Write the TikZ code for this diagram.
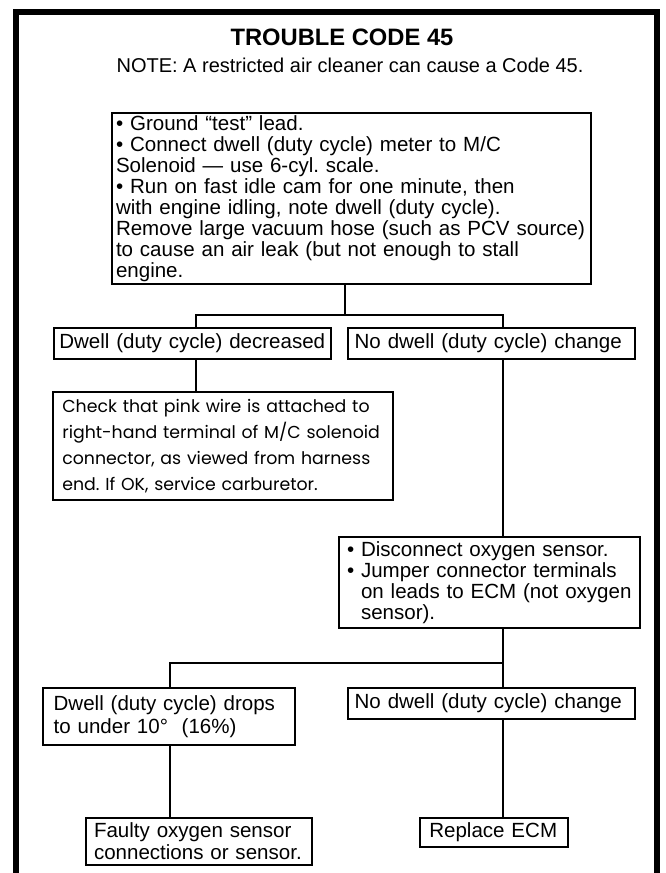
\documentclass[tikz,border=0pt]{standalone}
\usepackage{fontspec}
\setmainfont{Liberation Sans}
\newfontfamily\geofont{Poppins}
\newcommand\bul{\textbullet\ }
\frenchspacing
\begin{document}
\begin{tikzpicture}[x=0.75pt,y=-0.75pt,
  box/.style={draw, line width=1.4pt, outer sep=0pt, inner ysep=1pt,
    anchor=north west, align=left,
    font=\fontsize{15.4pt}{15.75pt}\selectfont},
  link/.style={line width=1.1pt},
  frame/.style={line width=3.8pt, line join=miter}]
\useasboundingbox (0,0) rectangle (665,873);

% outer frame, open at the bottom
\draw[frame] (16,873) -- (16,12) -- (657,12) -- (657,873);

% heading
\node[font=\bfseries\fontsize{17.8pt}{20pt}\selectfont] (title) at (342,37) {TROUBLE CODE 45};
\node[font=\fontsize{15pt}{18pt}\selectfont] (note) at (350,65)
  {NOTE: A restricted air cleaner can cause a Code 45.};

% boxes
\node[box, text width=353.25pt, inner xsep=3pt, minimum height=128.25pt] (start) at (112,113)
  {\bul Ground ``test'' lead.\\
   \bul Connect dwell (duty cycle) meter to M/C\\
   Solenoid --- use 6-cyl. scale.\\
   \bul Run on fast idle cam for one minute, then\\
   with engine idling, note dwell (duty cycle).\\
   Remove large vacuum hose (such as PCV source)\\
   to cause an air leak (but not enough to stall\\
   engine.};

\node[box, text width=199.75pt, inner xsep=4pt, minimum height=23.25pt] (dec) at (54,328)
  {Dwell (duty cycle) decreased};
\node[box, text width=205.25pt, inner xsep=5pt, minimum height=23.25pt] (nod1) at (348,328)
  {No dwell (duty cycle) change};

\node[box, text width=241pt, inner xsep=7pt, minimum height=81pt,
  font=\geofont\fontsize{13pt}{19.5pt}\selectfont] (check) at (53,392)
  {Check that pink wire is attached to\\
   right-hand terminal of M/C solenoid\\
   connector, as viewed from harness\\
   end. If OK, service carburetor.};

\node[box, text width=213.75pt, inner xsep=6pt, minimum height=68.25pt] (disc) at (339,537)
  {\bul Disconnect oxygen sensor.\\
   \bul Jumper connector terminals\\
   \phantom{\bul}on leads to ECM (not oxygen\\
   \phantom{\bul}sensor).};

\node[box, text width=173pt, inner xsep=8pt, minimum height=42.75pt,
  font=\fontsize{15.4pt}{17.25pt}\selectfont] (drop) at (43,688)
  {Dwell (duty cycle) drops\\ to under 10°\ \ (16\%)};
\node[box, text width=205.25pt, inner xsep=5pt, minimum height=23.25pt] (nod2) at (348,688)
  {No dwell (duty cycle) change};

\node[box, text width=157.5pt, inner xsep=6pt, minimum height=35.25pt,
  font=\fontsize{15.4pt}{16.5pt}\selectfont] (faulty) at (86,818)
  {Faulty oxygen sensor\\ connections or sensor.};
\node[box, text width=97pt, inner xsep=7pt, minimum height=21.75pt] (replace) at (420,818)
  {Replace ECM};

% connector columns and junctions
\coordinate (jA) at (345,315);
\coordinate (jB) at (503,663);
\coordinate (colL) at (196,0);
\coordinate (colR) at (503,0);
\coordinate (colL2) at (170,0);

\draw[link] (start.south -| jA) -- (jA);
\draw[link] (dec.north -| colL) |- (jA) -| (nod1.north -| colR);
\draw[link] (dec.south -| colL) -- (check.north -| colL);
\draw[link] (nod1.south -| colR) -- (disc.north -| colR);
\draw[link] (disc.south -| colR) -- (jB);
\draw[link] (drop.north -| colL2) |- (jB) -- (nod2.north -| colR);
\draw[link] (drop.south -| colL2) -- (faulty.north -| colL2);
\draw[link] (nod2.south -| colR) -- (replace.north -| colR);
\end{tikzpicture}
\end{document}
